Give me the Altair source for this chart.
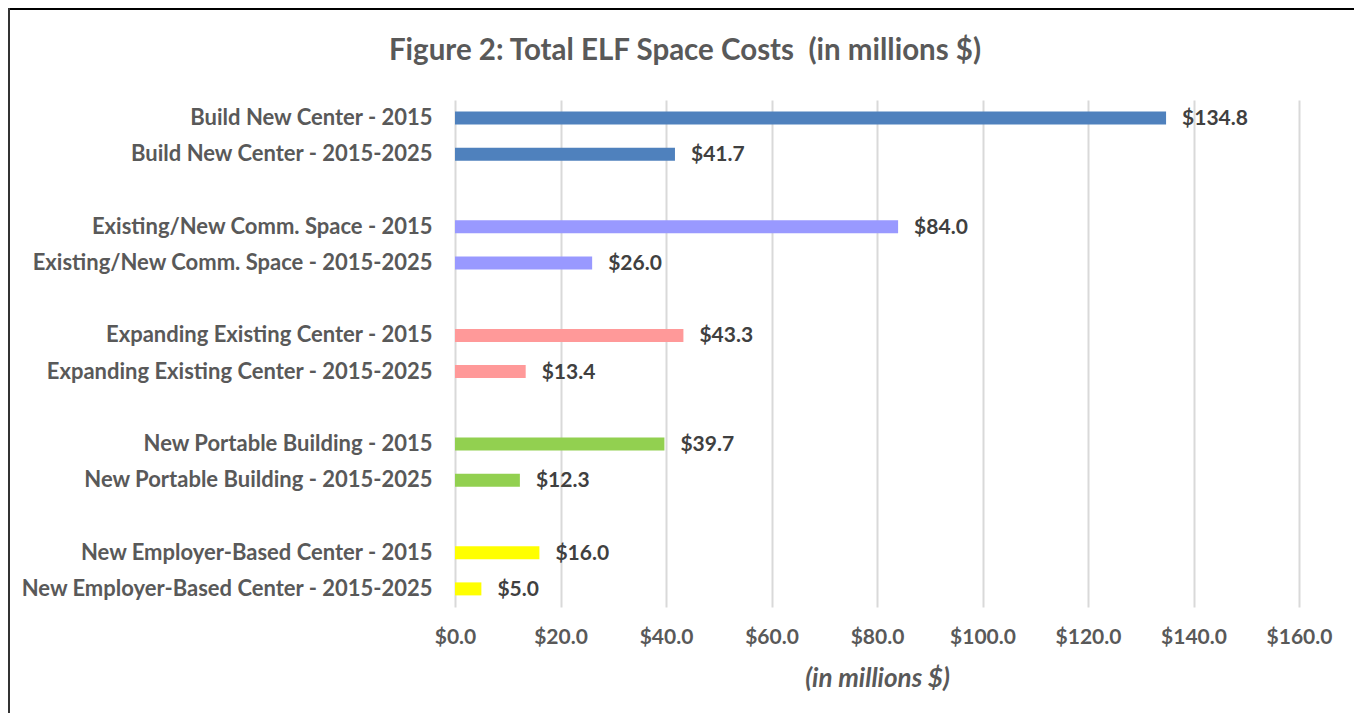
import altair as alt
import pandas as pd

categories = [
    "Build New Center - 2015",
    "Build New Center - 2015-2025",
    "Existing/New Comm. Space - 2015",
    "Existing/New Comm. Space - 2015-2025",
    "Expanding Existing Center - 2015",
    "Expanding Existing Center - 2015-2025",
    "New Portable Building - 2015",
    "New Portable Building - 2015-2025",
    "New Employer-Based Center - 2015",
    "New Employer-Based Center - 2015-2025",
]
values = [134.8, 41.7, 84.0, 26.0, 43.3, 13.4, 39.7, 12.3, 16.0, 5.0]
group_names = [
    "Build New Center",
    "Existing/New Comm. Space",
    "Expanding Existing Center",
    "New Portable Building",
    "New Employer-Based Center",
]
group_colors = ["#4F81BD", "#9999FF", "#FF9999", "#92D050", "#FFFF00"]
x_ticks = [0, 20, 40, 60, 80, 100, 120, 140, 160]
title_text = ["Figure 2: Total ELF Space Costs \u00a0(in millions $)"]

# y domain with blank spacer rows between groups
spacers = [" ", "  ", "   ", "    "]
domain = []
for i in range(5):
    domain += categories[2 * i:2 * i + 2]
    if i < 4:
        domain.append(spacers[i])

df = pd.DataFrame({
    "category": categories,
    "value": values,
    "group": [g for g in group_names for _ in range(2)],
})

FONT = "Lato"
TXT = "#595959"

y_enc = alt.Y(
    "category:N",
    scale=alt.Scale(domain=domain, paddingInner=0, paddingOuter=0),
    axis=alt.Axis(
        title=None, domain=False, ticks=False, labelPadding=23,
        labelFont=FONT, labelFontSize=22, labelFontWeight="bold",
        labelColor=TXT, labelLimit=600,
    ),
)
x_enc = alt.X(
    "value:Q",
    scale=alt.Scale(domain=[0, 160], nice=False),
    axis=alt.Axis(
        values=x_ticks, format="$.1f", grid=True, gridColor="#D9D9D9",
        gridWidth=2, domain=False, ticks=False, labelPadding=19,
        labelFlush=False,
        labelFont=FONT, labelFontSize=21, labelFontWeight="bold",
        labelColor=TXT, title="(in millions $)", titleFont=FONT,
        titleFontSize=26, titleFontWeight="bold", titleFontStyle="italic",
        titleColor=TXT, titlePadding=18,
    ),
)

base = alt.Chart(df)
bars = base.mark_bar(size=13).encode(
    x=x_enc,
    y=y_enc,
    color=alt.Color("group:N", scale=alt.Scale(domain=group_names, range=group_colors), legend=None),
)
labels = base.mark_text(
    align="left", baseline="middle", dx=16, dy=1, font=FONT, fontSize=21,
    fontWeight="bold", color="#404040",
).encode(
    x="value:Q",
    y=alt.Y("category:N", scale=alt.Scale(domain=domain)),
    text=alt.Text("value:Q", format="$.1f"),
)

title = alt.Chart(pd.DataFrame({"t": title_text})).mark_text(
    align="center", baseline="middle", font=FONT, fontSize=29.5,
    fontWeight="bold", color=TXT,
).encode(x=alt.value(230), y=alt.value(-49), text="t:N")

frame_df = pd.DataFrame({"a": [0]})
top_border = alt.Chart(frame_df).mark_rule(color="#000000", strokeWidth=2).encode(
    x=alt.value(-447), x2=alt.value(910), y=alt.value(-91)
)
left_border = alt.Chart(frame_df).mark_rule(color="#333333", strokeWidth=2).encode(
    x=alt.value(-446), y=alt.value(-92), y2=alt.value(620)
)

chart = alt.layer(bars, labels, title, top_border, left_border).properties(
    width=844,
    height=507,
    padding={"left": 447, "top": 92, "right": 55, "bottom": 106},
    autosize=alt.AutoSizeParams(type="none"),
).configure_view(stroke=None)

chart.save("out.html", embed_options={"renderer": "svg", "actions": False})
